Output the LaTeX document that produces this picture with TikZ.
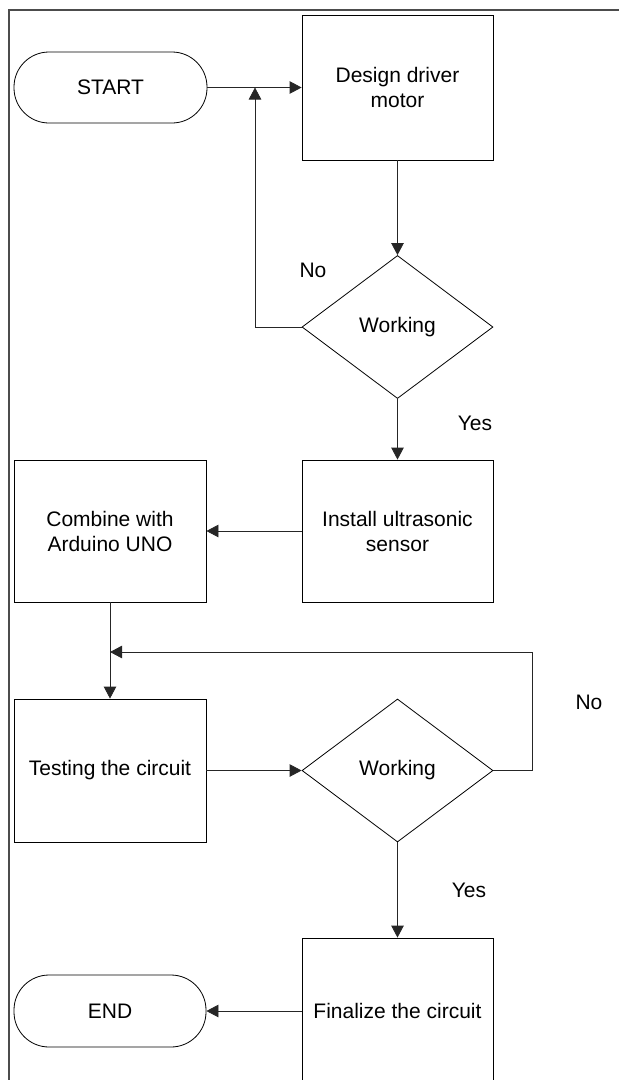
\documentclass[tikz,border=0pt]{standalone}
\usepackage{fontspec}
\setmainfont{Liberation Sans}
\usetikzlibrary{shapes.geometric,arrows.meta}
\begin{document}
\begin{tikzpicture}[x=1pt,y=-1pt,
  every node/.style={font=\fontsize{21}{25}\selectfont, text=black},
  procbox/.style={draw=black, line width=0.8pt, minimum width=191pt, minimum height=143pt, align=center, inner sep=0pt},
  termbox/.style={draw=black, line width=0.8pt, rounded corners=35pt, minimum width=193pt, minimum height=71pt, inner sep=0pt},
  decbox/.style={draw=black, line width=0.8pt, diamond, aspect=1.336, minimum width=191pt, minimum height=143pt, inner sep=0pt},
  flow/.style={draw=black!85, line width=0.8pt, -{Triangle[length=12pt,width=12.5pt]}},
  lbl/.style={inner sep=0pt}]
  \useasboundingbox (0,0) rectangle (619,1080);
  % frame around the chart
  \begin{scope}
    \clip (0,0) rectangle (619,1080);
    \draw[black!70, line width=1.3pt] (9,10) rectangle (640,1110);
  \end{scope}

  % blocks
  \node[termbox] (start) at (110.5,87.5) {START};
  \node[procbox, minimum height=145pt] (design) at (397.5,87.5) {Design driver\\motor};
  \node[decbox] (w1) at (397.5,327) {Working};
  \node[procbox, minimum height=142pt] (install) at (397.5,531) {Install ultrasonic\\sensor};
  \node[procbox, minimum height=142pt, minimum width=192pt] (combine) at (110,531) {Combine with\\Arduino UNO};
  \node[procbox, minimum width=192pt] (testing) at (110,770.5) {Testing the circuit};
  \node[decbox] (w2) at (397.5,770.5) {Working};
  \node[procbox, minimum height=146pt] (final) at (397.5,1011) {Finalize the circuit};
  \node[termbox, minimum width=192pt, minimum height=72pt] (end) at (110,1011) {END};

  % junction points of the loops
  \coordinate (j1) at (255,87.5);
  \coordinate (j2) at (110,652);
  \coordinate (r2) at (532,652);

  % connectors
  \draw[flow] (start.east) -- (design.west);
  \draw[flow] (design.south) -- (w1.north);
  \draw[flow] (w1.west) -| (j1);
  \draw[flow] (w1.south) -- (install.north);
  \draw[flow] (install.west) -- (combine.east);
  \draw[flow] (combine.south) -- (testing.north);
  \draw[flow] (testing.east) -- (w2.west);
  \draw[flow] (w2.east) -| (r2) -- (j2);
  \draw[flow] (w2.south) -- (final.north);
  \draw[flow] (final.west) -- (end.east);

  % branch labels
  \node[lbl] (no1) at (313,270) {No};
  \node[lbl] (yes1) at (475,423) {Yes};
  \node[lbl] (no2) at (589,702) {No};
  \node[lbl] (yes2) at (469,890) {Yes};
\end{tikzpicture}
\end{document}
